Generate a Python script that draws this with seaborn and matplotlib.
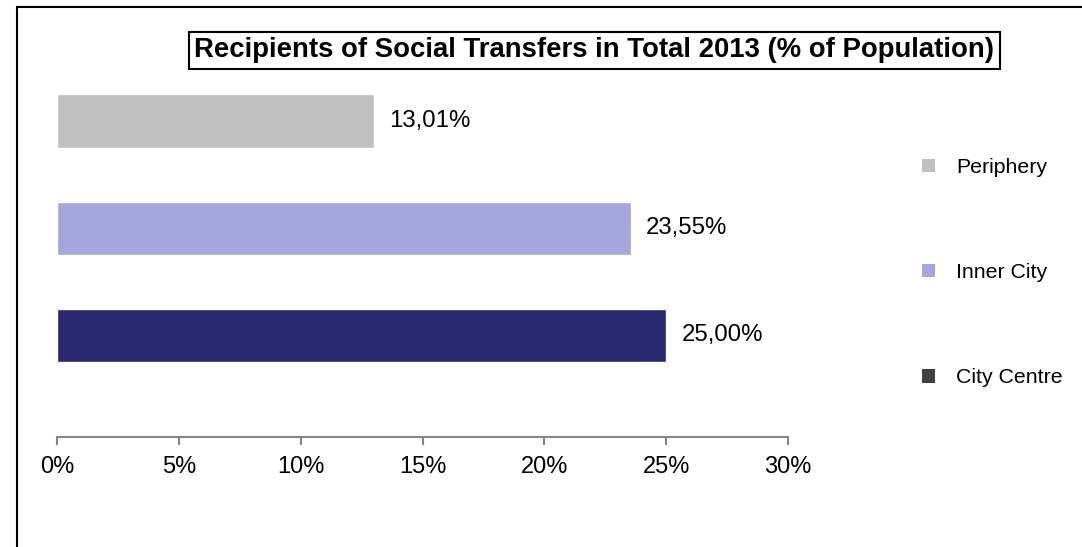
import matplotlib
matplotlib.use("Agg")
import matplotlib.pyplot as plt
from matplotlib.patches import Rectangle, Patch
import seaborn as sns
import pandas as pd

categories = ["Periphery", "Inner City", "City Centre"]
values = [13.01, 23.55, 25.00]
bar_colors = ["#C0C0C0", "#A6A6DF", "#29286F"]
legend_colors = ["#C0C0C0", "#A6A6DF", "#404040"]
xticks = [0, 5, 10, 15, 20, 25, 30]
xtick_labels = ["0%", "5%", "10%", "15%", "20%", "25%", "30%"]
title = "Recipients of Social Transfers in Total 2013 (% of Population)"

sns.set_theme(style="white")
plt.rcParams["font.family"] = ["Liberation Sans", "DejaVu Sans"]

W, H = 1082, 547
fig = plt.figure(figsize=(W / 100, H / 100), dpi=100)
fig.patch.set_facecolor("white")

ax_left, ax_right = 57 / W, 788 / W
ax_top, ax_bottom = 57 / H, 437 / H
ax = fig.add_axes([ax_left, 1 - ax_bottom, ax_right - ax_left, ax_bottom - ax_top])

df = pd.DataFrame({"category": categories, "value": values})
sns.barplot(data=df, x="value", y="category", hue="category",
            palette=dict(zip(categories, bar_colors)), orient="h",
            width=0.5, dodge=False, legend=False, ax=ax, saturation=1)

for c in ax.containers:
    labels = [f"{v:.2f}%".replace(".", ",") for v in c.datavalues]
    ax.bar_label(c, labels=labels, padding=11, fontsize=17.3, color="#000000")

ax.set_xlim(0, 30)
ax.set_ylim(2.95, -0.6)
ax.set_xticks(xticks)
ax.set_xticklabels(xtick_labels, fontsize=17)
ax.set_yticks([])
ax.set_xlabel("")
ax.set_ylabel("")
for s in ["top", "right", "left"]:
    ax.spines[s].set_visible(False)
ax.spines["bottom"].set_color("#868686")
ax.spines["bottom"].set_linewidth(1.5)
ax.tick_params(axis="x", direction="out", length=6, width=1.5, color="#868686",
               bottom=True, pad=8, labelcolor="#000000")
ax.set_facecolor("none")

# legend
handles = [Patch(facecolor=c, edgecolor="none") for c in legend_colors]
fig.legend(handles, categories, loc="upper left", bbox_to_anchor=(903 / W, 1 - 139 / H),
           frameon=False, fontsize=15.3, labelspacing=4.05, handlelength=0.6,
           handleheight=0.6, handletextpad=1.0, labelcolor="#000000")

# title
fig.text(594 / W, 1 - 50 / H, title, ha="center", va="center", fontsize=19.8,
         fontweight="bold", color="black",
         bbox=dict(boxstyle="square,pad=0.2", facecolor="white", edgecolor="black", linewidth=1.5))

# outer frame
fig.patches.append(Rectangle((17 / W, -0.1), 2, 1 - 7 / H + 0.1, transform=fig.transFigure,
                             fill=False, edgecolor="black", linewidth=1.5, zorder=0))

fig.savefig("out.png", dpi=100, facecolor="white")
